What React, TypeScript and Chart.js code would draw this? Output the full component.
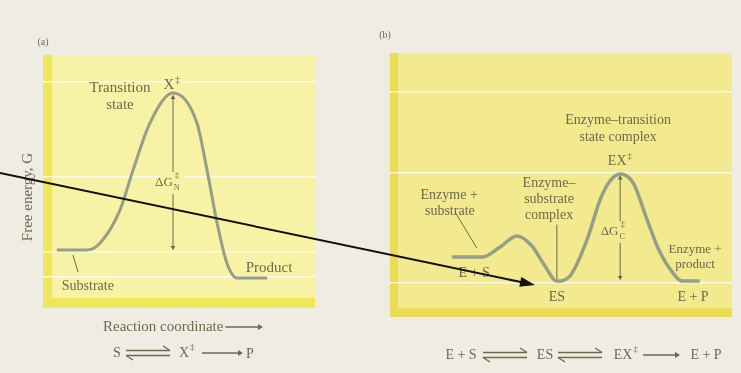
import React, { useEffect, useRef } from "react";
import { Chart, registerables } from "chart.js";
Chart.register(...registerables);

// Panel (a): uncatalysed reaction (reaction coordinate, free energy)
const coordA = [0.51, 1.62, 2.1, 2.83, 3.31, 3.93, 4.78, 5.66, 6.03, 6.4, 6.76, 7.13, 8.24];
const energyA = [2.29, 2.29, 2.57, 3.87, 5.45, 7.31, 8.5, 7.31, 5.45, 3.36, 1.78, 1.19, 1.19];
const levelsA = [8.93, 5.18, 2.21, 1.23];

// Panel (b): enzyme-catalysed reaction
const coordB = [1.81, 2.69, 3.22, 3.71, 4.15, 4.53, 4.88, 5.26, 5.76, 6.14, 6.43, 6.73, 7.11, 7.54, 7.89, 8.27, 8.54, 9.06];
const energyB = [2.27, 2.27, 2.65, 3.07, 2.69, 1.93, 1.36, 1.55, 2.92, 4.43, 5.15, 5.42, 5.08, 3.6, 2.46, 1.67, 1.36, 1.36];
const levelsB = [8.52, 5.45, 1.29];

const TEXT = "#6c6a4e";
const CURVE = "#959e86";
const FONT = '"Liberation Serif", "DejaVu Serif", serif';

type Ctx = CanvasRenderingContext2D;

function txt(ctx: Ctx, s: string, x: number, y: number, size = 14, align: CanvasTextAlign = "center") {
  ctx.font = `${size}px ${FONT}`;
  ctx.textAlign = align;
  ctx.textBaseline = "middle";
  ctx.fillStyle = TEXT;
  ctx.fillText(s, x, y);
  return ctx.measureText(s).width;
}

function line(ctx: Ctx, x1: number, y1: number, x2: number, y2: number, w = 1, color = TEXT) {
  ctx.strokeStyle = color;
  ctx.lineWidth = w;
  ctx.beginPath();
  ctx.moveTo(x1, y1);
  ctx.lineTo(x2, y2);
  ctx.stroke();
}

function head(ctx: Ctx, x: number, y: number, dir: "up" | "down" | "right", s = 4) {
  ctx.fillStyle = TEXT;
  ctx.beginPath();
  if (dir === "up") { ctx.moveTo(x, y); ctx.lineTo(x - s * 0.6, y + s); ctx.lineTo(x + s * 0.6, y + s); }
  else if (dir === "down") { ctx.moveTo(x, y); ctx.lineTo(x - s * 0.6, y - s); ctx.lineTo(x + s * 0.6, y - s); }
  else { ctx.moveTo(x, y); ctx.lineTo(x - s, y - s * 0.6); ctx.lineTo(x - s, y + s * 0.6); }
  ctx.closePath();
  ctx.fill();
}

function equil(ctx: Ctx, x1: number, x2: number, y: number) {
  line(ctx, x1, y - 2.5, x2, y - 2.5, 1.3);
  line(ctx, x2, y - 2.5, x2 - 7, y - 7, 1.3);
  line(ctx, x1, y + 2.5, x2, y + 2.5, 1.3);
  line(ctx, x1, y + 2.5, x1 + 7, y + 7, 1.3);
}

function forward(ctx: Ctx, x1: number, x2: number, y: number) {
  line(ctx, x1, y, x2 - 4, y, 1.3);
  head(ctx, x2, y, "right", 5);
}

function dG(ctx: Ctx, x: number, y: number, sub: string, bg: string) {
  ctx.fillStyle = bg;
  ctx.fillRect(x - 12, y - 10, 26, 22);
  txt(ctx, "ΔG", x + 2, y + 1, 13, "right");
  txt(ctx, "‡", x + 4, y - 6, 9, "left");
  txt(ctx, sub, x + 3, y + 6, 8, "left");
}

function sup(ctx: Ctx, base: string, x: number, y: number, size: number) {
  ctx.font = `${size}px ${FONT}`;
  const w = ctx.measureText(base).width;
  txt(ctx, base, x - 3, y, size, "center");
  txt(ctx, "‡", x - 3 + w / 2 + 1, y - 5, size * 0.65, "left");
}

function makeBg(fill: string, strip: string, stripW: number) {
  return {
    id: "panelBg",
    beforeDraw(chart: any) {
      const { ctx, chartArea: a } = chart;
      ctx.save();
      ctx.fillStyle = fill;
      ctx.fillRect(a.left, a.top, a.right - a.left, a.bottom - a.top);
      ctx.fillStyle = strip;
      ctx.fillRect(a.left, a.top, stripW, a.bottom - a.top);
      ctx.fillRect(a.left, a.bottom - stripW - 1, a.right - a.left, stripW + 1);
      ctx.restore();
    },
  };
}

const annA = {
  id: "annA",
  afterDatasetsDraw(chart: any) {
    const { ctx } = chart;
    const X = (v: number) => chart.scales.x.getPixelForValue(v);
    const Y = (v: number) => chart.scales.y.getPixelForValue(v);
    ctx.save();
    // activation arrow
    line(ctx, X(4.78), Y(8.4), X(4.78), Y(2.32), 1);
    head(ctx, X(4.78), Y(8.42), "up", 4);
    head(ctx, X(4.78), Y(2.29), "down", 4);
    dG(ctx, X(4.7), Y(4.98), "N", "#f7f2a6");
    txt(ctx, "Transition", X(2.83), Y(8.7), 15);
    txt(ctx, "state", X(2.83), Y(8.02), 15);
    sup(ctx, "X", X(4.74), Y(8.8), 15);
    txt(ctx, "Substrate", X(1.65), Y(0.87), 14);
    line(ctx, X(1.1), Y(2.09), X(1.29), Y(1.42), 1);
    txt(ctx, "Product", X(8.31), Y(1.58), 15);
    // outside texts
    txt(ctx, "(a)", 43, 42, 10);
    ctx.save();
    ctx.translate(28, 197);
    ctx.rotate(-Math.PI / 2);
    txt(ctx, "Free energy, G", 0, 0, 15);
    ctx.restore();
    const w = txt(ctx, "Reaction coordinate", 103, 327, 15, "left");
    forward(ctx, 103 + w + 2, 263, 327);
    txt(ctx, "S", 117, 353, 14);
    equil(ctx, 126, 170, 353);
    sup(ctx, "X", 187, 353, 14);
    forward(ctx, 202, 243, 353);
    txt(ctx, "P", 250, 354, 14);
    ctx.restore();
  },
};

const annB = {
  id: "annB",
  afterDatasetsDraw(chart: any) {
    const { ctx } = chart;
    const X = (v: number) => chart.scales.x.getPixelForValue(v);
    const Y = (v: number) => chart.scales.y.getPixelForValue(v);
    ctx.save();
    line(ctx, X(6.73), Y(5.34), X(6.73), Y(1.43), 1);
    head(ctx, X(6.73), Y(5.36), "up", 4);
    head(ctx, X(6.73), Y(1.4), "down", 4);
    dG(ctx, X(6.62), Y(3.26), "C", "#f3e98e");
    txt(ctx, "Enzyme–transition", X(6.67), Y(7.46), 14);
    txt(ctx, "state complex", X(6.67), Y(6.8), 14);
    sup(ctx, "EX", X(6.73), Y(5.9), 14);
    txt(ctx, "Enzyme–", X(4.65), Y(5.08), 14);
    txt(ctx, "substrate", X(4.65), Y(4.47), 14);
    txt(ctx, "complex", X(4.65), Y(3.86), 14);
    line(ctx, X(4.88), Y(3.5), X(4.88), Y(1.44), 1);
    txt(ctx, "Enzyme +", X(1.73), Y(4.62), 14);
    txt(ctx, "substrate", X(1.75), Y(4.02), 14);
    line(ctx, X(1.9), Y(3.98), X(2.54), Y(2.61), 1);
    txt(ctx, "Enzyme +", X(8.92), Y(2.54), 13);
    txt(ctx, "product", X(8.92), Y(1.97), 13);
    txt(ctx, "ES", X(4.88), Y(0.76), 14);
    txt(ctx, "E + P", X(8.86), Y(0.76), 14);
    txt(ctx, "E + S", X(2.46), Y(1.67), 14);
    // outside texts (canvas starts at page x = 370)
    txt(ctx, "(b)", 15, 35, 10);
    txt(ctx, "E + S", 91, 355, 14);
    equil(ctx, 113, 157, 355);
    txt(ctx, "ES", 175, 355, 14);
    equil(ctx, 188, 232, 355);
    sup(ctx, "EX", 256, 355, 14);
    forward(ctx, 273, 310, 355);
    txt(ctx, "E + P", 336, 355, 14);
    ctx.restore();
  },
};

function config(xs: number[], ys: number[], levels: number[], pad: any, bg: any, ann: any, width: number) {
  return {
    type: "line" as const,
    data: {
      datasets: [
        {
          data: xs.map((x, i) => ({ x, y: ys[i] })),
          borderColor: CURVE,
          borderWidth: width,
          pointRadius: 0,
          cubicInterpolationMode: "monotone" as const,
          fill: false,
        },
      ],
    },
    options: {
      animation: false as const,
      responsive: false,
      maintainAspectRatio: false,
      layout: { padding: pad },
      plugins: { legend: { display: false }, tooltip: { enabled: false } },
      scales: {
        x: { type: "linear" as const, min: 0, max: 10, display: false },
        y: {
          type: "linear" as const,
          min: 0,
          max: 10,
          afterFit: (s: any) => { s.width = 0; },
          afterBuildTicks: (s: any) => { s.ticks = levels.map((v) => ({ value: v })); },
          ticks: { display: false },
          grid: { color: "rgba(255,255,250,0.8)", lineWidth: 1.5, drawTicks: false },
          border: { display: false },
        },
      },
    },
    plugins: [bg, ann],
  };
}

export default function App() {
  const refA = useRef<HTMLCanvasElement>(null);
  const refB = useRef<HTMLCanvasElement>(null);

  useEffect(() => {
    document.body.style.margin = "0";
    const a = new Chart(
      refA.current!,
      config(coordA, energyA, levelsA, { left: 43, top: 55, right: 55, bottom: 65 }, makeBg("#f7f2a6", "#efe659", 9), annA, 3) as any
    );
    const b = new Chart(
      refB.current!,
      config(coordB, energyB, levelsB, { left: 20, top: 53, right: 9, bottom: 56 }, makeBg("#f3e98e", "#eadb55", 8), annB, 3.5) as any
    );
    return () => { a.destroy(); b.destroy(); };
  }, []);

  return (
    <div style={{ position: "relative", width: 741, height: 373, background: "#efede3", overflow: "hidden" }}>
      <canvas ref={refA} width={370} height={373} style={{ position: "absolute", left: 0, top: 0 }} />
      <canvas ref={refB} width={371} height={373} style={{ position: "absolute", left: 370, top: 0 }} />
      <svg width={741} height={373} style={{ position: "absolute", left: 0, top: 0 }}>
        <line x1={0} y1={173} x2={522} y2={282.3} stroke="#111" strokeWidth={2} />
        <polygon points="535,285 519.3,286.8 521.3,276.9" fill="#111" />
      </svg>
    </div>
  );
}
